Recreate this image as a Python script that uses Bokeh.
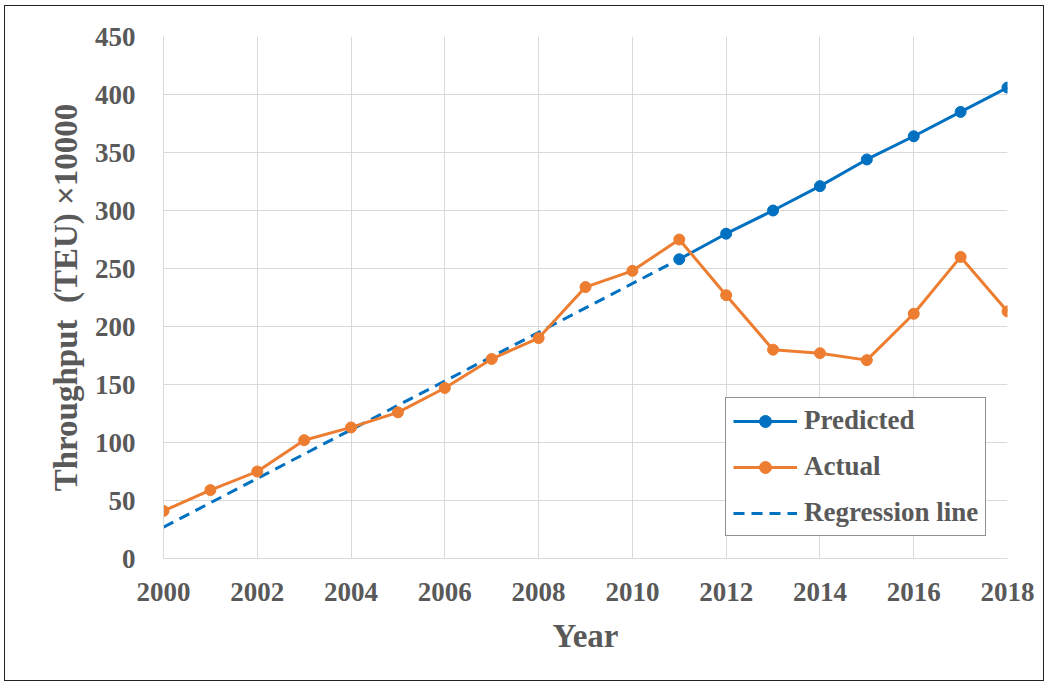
from bokeh.plotting import figure
from bokeh.models import Legend, LegendItem, FixedTicker, Range1d
from bokeh.embed import file_html
from bokeh.resources import INLINE

years_actual = list(range(2000, 2019))
actual = [41, 59, 75, 102, 113, 126, 147, 172, 190, 234, 248, 275,
          227, 180, 177, 171, 211, 260, 213]

years_pred = list(range(2011, 2019))
predicted = [258, 280, 300, 321, 344, 364, 385, 406]

years_reg = [2000, 2011]
regression = [27, 258]

x_ticks = list(range(2000, 2019, 2))
y_ticks = list(range(0, 451, 50))

BLUE = "#0070C0"
ORANGE = "#ED7D31"
GRID = "#D9D9D9"
TEXT = "#595959"
FONT = "Liberation Serif"

p = figure(width=1040, height=676, output_backend="svg", toolbar_location=None,
           x_range=Range1d(2000, 2018), y_range=Range1d(0, 450),
           min_border_left=158, min_border_right=38, min_border_top=30,
           min_border_bottom=124)
p.styles = {"border": "1.5px solid #222222", "margin-left": "4px", "margin-top": "5px"}
p.outline_line_color = None

p.xaxis.ticker = FixedTicker(ticks=x_ticks)
p.yaxis.ticker = FixedTicker(ticks=y_ticks)
for ax in (p.xaxis, p.yaxis):
    ax.major_tick_line_color = None
    ax.minor_tick_line_color = None
    ax.axis_line_color = GRID
    ax.major_label_text_font = FONT
    ax.major_label_text_font_style = "bold"
    ax.major_label_text_font_size = "27px"
    ax.major_label_text_color = TEXT
    ax.axis_label_text_font = FONT
    ax.axis_label_text_font_style = "bold"
    ax.axis_label_text_color = TEXT
p.xaxis.axis_label_text_font_size = "33px"
p.yaxis.axis_label_text_font_size = "33px"
p.xaxis.major_label_standoff = 18
p.yaxis.major_label_standoff = 22
p.xaxis.axis_label = "Year"
p.yaxis.axis_label = "Throughput\u2002(TEU) \u00d710000"
p.xaxis.axis_label_standoff = 14
p.yaxis.axis_label_standoff = 8

p.xgrid.grid_line_color = GRID
p.ygrid.grid_line_color = GRID
p.xgrid.grid_line_width = 1
p.ygrid.grid_line_width = 1

r_reg = p.line(years_reg, regression, line_color=BLUE, line_width=3, line_dash="11 7")
r_pred_l = p.line(years_pred, predicted, line_color=BLUE, line_width=3)
r_pred_m = p.scatter(years_pred, predicted, size=11, fill_color=BLUE, line_color=BLUE)
r_act_l = p.line(years_actual, actual, line_color=ORANGE, line_width=3)
r_act_m = p.scatter(years_actual, actual, size=11, fill_color=ORANGE, line_color=ORANGE)

legend = Legend(items=[
    LegendItem(label="Predicted", renderers=[r_pred_l, r_pred_m]),
    LegendItem(label="Actual", renderers=[r_act_l, r_act_m]),
    LegendItem(label="Regression line", renderers=[r_reg]),
], location=(562, 22))
legend.border_line_color = "#222222"
legend.border_line_width = 1.5
legend.background_fill_alpha = 1
legend.label_text_font = FONT
legend.label_text_font_style = "bold"
legend.label_text_font_size = "27px"
legend.label_text_color = TEXT
legend.glyph_width = 64
legend.glyph_height = 30
legend.label_height = 30
legend.spacing = 15
legend.padding = 7
legend.margin = 0
legend.label_standoff = 7
p.add_layout(legend, "center")

open("out.html", "w").write(file_html(p, INLINE))
